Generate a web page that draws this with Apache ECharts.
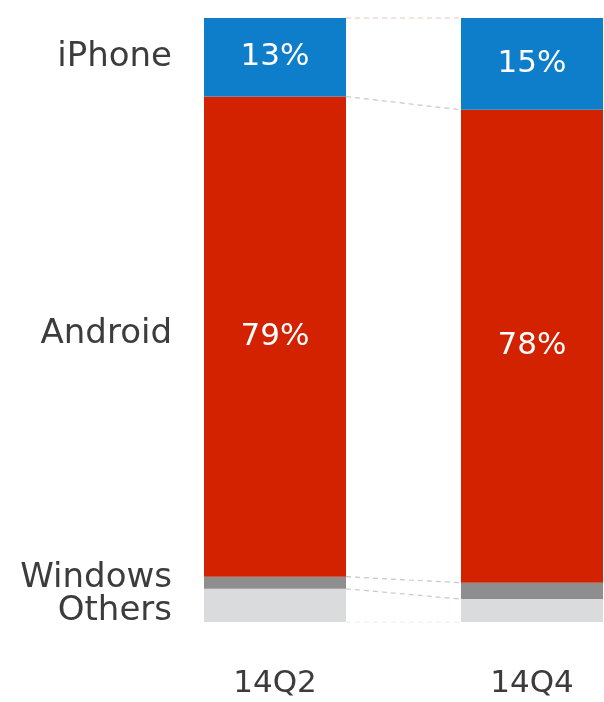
<!DOCTYPE html>
<html><head><meta charset="utf-8">
<script src="https://cdn.jsdelivr.net/npm/echarts@6/dist/echarts.min.js"></script>
<style>html,body{margin:0;padding:0;background:#fff}#c{width:604px;height:702px}</style>
</head><body><div id="c"></div>
<script>
const categories = ['14Q2', '14Q4'];
const seriesNames = ['Others', 'Windows', 'Android', 'iPhone'];
const others = [5.5, 3.8];
const windows = [2.0, 2.7];
const android = [79.5, 78.3];
const iphone = [13.0, 15.2];
const shownLabels = { iPhone: ['13%', '15%'], Android: ['79%', '78%'] };

const values = [others, windows, android, iphone];
const colors = ['#dadbdd', '#8e8e8e', '#d32200', '#0e7ecb'];
const nameOffsets = [[0, 6], [0, -5], [0, -2], [0, 0]];
const lineColors = ['rgba(200,200,200,0.35)', '#c8c8c8', '#c8c8c8', '#c8c8c8', '#e8c8b8'];
const FONT = '"DejaVu Sans", "Open Sans", sans-serif';
const BW = 142;

const series = [];
values.forEach((v, i) => {
  const name = seriesNames[i];
  series.push({
    name, type: 'bar', stack: 'share', barWidth: BW, clip: false,
    data: v, itemStyle: { color: colors[i] },
    label: {
      show: !!shownLabels[name], position: 'inside', color: '#fff',
      fontSize: 31, fontFamily: FONT,
      formatter: p => shownLabels[name] ? shownLabels[name][p.dataIndex] : ''
    }
  });
});
values.forEach((v, i) => {
  const name = seriesNames[i];
  series.push({
    name: name + '_n', type: 'bar', stack: 'names', barWidth: BW, barGap: '-100%', clip: false,
    data: v, itemStyle: { color: 'rgba(0,0,0,0)' }, silent: true,
    label: {
      show: true, position: 'left', distance: 32, offset: nameOffsets[i],
      color: '#3c3c3c', fontSize: 34, fontFamily: FONT,
      formatter: p => p.dataIndex === 0 ? name : ''
    }
  });
});

// boundaries between segments (cumulative from bottom)
const boundaries = [];
let c0 = 0, c1 = 0;
boundaries.push([0, c0, c1]);
values.forEach(v => { c0 += v[0]; c1 += v[1]; boundaries.push([0, c0, c1]); });

series.push({
  type: 'custom', silent: true, clip: false, z: 1,
  data: boundaries,
  encode: { x: 0, y: 1 },
  renderItem: (params, api) => {
    const p1 = api.coord([0, api.value(1)]);
    const p2 = api.coord([1, api.value(2)]);
    return {
      type: 'line',
      shape: { x1: p1[0] + BW / 2, y1: p1[1], x2: p2[0] - BW / 2, y2: p2[1] },
      style: { stroke: lineColors[params.dataIndex], lineWidth: 1.2, lineDash: [5, 4] }
    };
  }
});

const chart = echarts.init(document.getElementById('c'));
chart.setOption({
  animation: false,
  backgroundColor: '#fff',
  grid: { left: 275, right: 72, top: 18, bottom: 80 },
  xAxis: {
    type: 'category', data: categories, boundaryGap: false,
    axisLine: { show: false }, axisTick: { show: false },
    axisLabel: { fontSize: 31, color: '#3c3c3c', fontFamily: FONT, margin: 46 }
  },
  yAxis: { type: 'value', min: 0, max: 100, show: false },
  series
});
</script></body></html>
